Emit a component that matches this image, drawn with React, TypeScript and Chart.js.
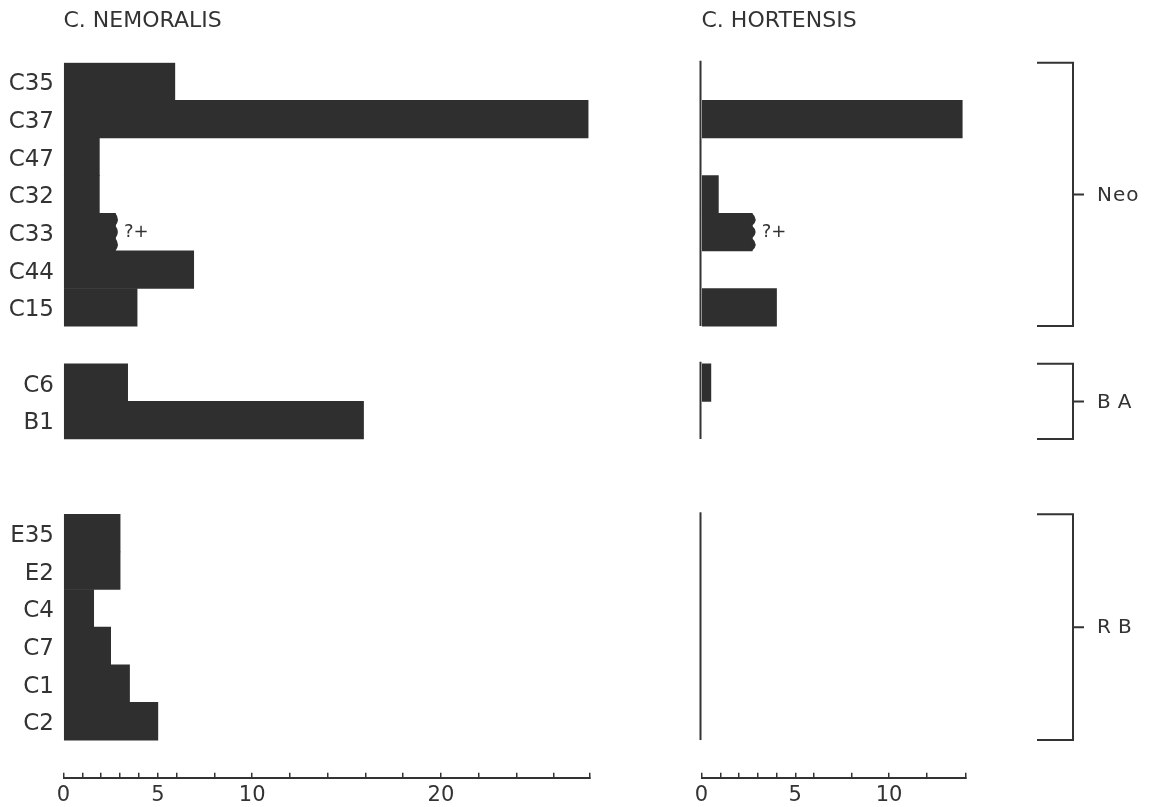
import React, { useEffect, useRef } from 'react';
import { Chart, registerables } from 'chart.js';

Chart.register(...registerables);

// ---- data ----
const categories = ['C35', 'C37', 'C47', 'C32', 'C33', 'C44', 'C15', '', 'C6', 'B1', '', '', 'E35', 'E2', 'C4', 'C7', 'C1', 'C2', ''];
const nemoralis = [5.9, 27.8, 1.9, 1.9, 2.75, 6.9, 3.9, null, 3.4, 15.9, null, null, 3.0, 3.0, 1.6, 2.5, 3.5, 5.0, null];
const hortensis = [null, 13.9, null, 0.9, 2.7, null, 4.0, null, 0.5, null, null, null, null, null, null, null, null, null, null];

const groupNames = ['Neo', 'BA', 'RB'];
const groupFirst = ['C35', 'C6', 'E35'];
const groupLast = ['C15', 'B1', 'C2'];

const uncertainCategory = 'C33';
const uncertainLabel = '?+';

const nemoralisTicks = [0, 1, 2, 3, 4, 5, 6, 8, 10, 12, 14, 16, 18, 20, 22, 24, 26];
const nemoralisTickLabels = [0, 5, 10, 20];
const nemoralisMax = 27.9;

const hortensisTicks = [0, 1, 2, 3, 4, 5, 6, 8, 10, 12];
const hortensisTickLabels = [0, 5, 10];
const hortensisMax = 14.1;

const titles = ['C. NEMORALIS', 'C. HORTENSIS'];

// ---- styles ----
const INK = '#333333';
const BAR = '#2f2f2f';
const FONT = "'DejaVu Sans', 'Liberation Sans', sans-serif";

function uncertainPlugin(id: string, amp: number) {
  return {
    id,
    afterDatasetsDraw(chart: any) {
      const idx = categories.indexOf(uncertainCategory);
      const el = chart.getDatasetMeta(0).data[idx];
      if (!el) return;
      const { x, y, height } = el.getProps(['x', 'y', 'height'], true);
      const top = y - height / 2;
      const bottom = y + height / 2;
      const ctx = chart.ctx;
      ctx.save();
      ctx.fillStyle = BAR;
      ctx.beginPath();
      ctx.moveTo(x - 1, top);
      ctx.lineTo(x, top);
      const n = 3;
      const seg = height / n;
      for (let i = 0; i < n; i++) {
        ctx.quadraticCurveTo(x + 2 * amp, top + seg * (i + 0.5), x, top + seg * (i + 1));
      }
      ctx.lineTo(x - 1, bottom);
      ctx.closePath();
      ctx.fill();
      ctx.fillStyle = INK;
      ctx.font = `18px ${FONT}`;
      ctx.textBaseline = 'middle';
      ctx.textAlign = 'left';
      ctx.fillText(uncertainLabel, x + amp + 6, y);
      ctx.restore();
    },
  };
}

const groupPlugin = {
  id: 'groupBrackets',
  afterDatasetsDraw(chart: any) {
    const ys = chart.scales.y;
    const area = chart.chartArea;
    const slot = ys.getPixelForValue(1) - ys.getPixelForValue(0);
    const ctx = chart.ctx;
    ctx.save();
    ctx.strokeStyle = INK;
    ctx.lineWidth = 2;
    ctx.fillStyle = INK;
    ctx.font = `20px ${FONT}`;
    ctx.textBaseline = 'middle';
    ctx.textAlign = 'left';
    groupNames.forEach((name, g) => {
      const top = ys.getPixelForValue(categories.indexOf(groupFirst[g])) - slot / 2;
      const bot = ys.getPixelForValue(categories.indexOf(groupLast[g])) + slot / 2;
      const mid = (top + bot) / 2;
      // baseline of the hortensis panel
      ctx.beginPath();
      ctx.moveTo(area.left - 1, top - 2);
      ctx.lineTo(area.left - 1, bot);
      ctx.stroke();
      // bracket
      const xa = area.right + 71;
      const xv = area.right + 107;
      const xt = area.right + 118;
      ctx.beginPath();
      ctx.moveTo(xa, top);
      ctx.lineTo(xv, top);
      ctx.lineTo(xv, bot);
      ctx.lineTo(xa, bot);
      ctx.moveTo(xv, mid);
      ctx.lineTo(xt, mid);
      ctx.stroke();
      (ctx as any).letterSpacing = name.length === 2 ? '7px' : '1px';
      ctx.fillText(name, area.right + 131, mid + 1);
      (ctx as any).letterSpacing = '0px';
    });
    ctx.restore();
  },
};

function buildConfig(opts: {
  title: string;
  data: (number | null)[];
  ticks: number[];
  tickLabels: number[];
  max: number;
  showY: boolean;
  yWidth: number;
  padLeft: number;
  padRight: number;
  plugins: any[];
}): any {
  return {
    type: 'bar',
    data: {
      labels: categories,
      datasets: [
        {
          data: opts.data,
          backgroundColor: BAR,
          borderWidth: 0,
          barPercentage: 1,
          categoryPercentage: 1,
        },
      ],
    },
    plugins: opts.plugins,
    options: {
      indexAxis: 'y',
      animation: false,
      responsive: false,
      devicePixelRatio: 1,
      layout: { padding: { left: opts.padLeft, right: opts.padRight, top: 0, bottom: 0 } },
      plugins: {
        legend: { display: false },
        tooltip: { enabled: false },
        title: {
          display: true,
          text: opts.title,
          align: 'start',
          fullSize: false,
          color: INK,
          font: { family: FONT, size: 22, weight: 'normal' },
          padding: { top: 8, bottom: 28.3 },
        },
      },
      scales: {
        y: {
          type: 'category',
          display: opts.showY,
          grid: { display: false, drawTicks: false },
          border: { display: false },
          ticks: {
            color: INK,
            padding: 9.5,
            labelOffset: 3,
            font: { family: FONT, size: 23 },
            autoSkip: false,
          },
          afterFit: (s: any) => {
            s.width = opts.yWidth;
          },
        },
        x: {
          type: 'linear',
          min: 0,
          max: opts.max,
          grid: {
            display: true,
            drawOnChartArea: false,
            drawTicks: true,
            tickLength: -5,
            color: INK,
            lineWidth: 1.5,
          },
          border: { display: true, color: INK, width: 2 },
          afterBuildTicks: (s: any) => {
            s.ticks = opts.ticks.concat([opts.max]).map((v) => ({ value: v }));
          },
          afterFit: (s: any) => {
            s.height = 29.3;
          },
          ticks: {
            autoSkip: false,
            maxRotation: 0,
            minRotation: 0,
            padding: 10,
            color: INK,
            font: { family: FONT, size: 21 },
            callback: (v: number) => (opts.tickLabels.includes(v) ? String(v) : ''),
          },
        },
      },
    },
  };
}

export default function App() {
  const leftRef = useRef<HTMLCanvasElement>(null);
  const rightRef = useRef<HTMLCanvasElement>(null);

  useEffect(() => {
    const left = new Chart(
      leftRef.current as HTMLCanvasElement,
      buildConfig({
        title: titles[0],
        data: nemoralis,
        ticks: nemoralisTicks,
        tickLabels: nemoralisTickLabels,
        max: nemoralisMax,
        showY: true,
        yWidth: 63.5,
        padLeft: 0,
        padRight: 50,
        plugins: [uncertainPlugin('uncertainLeft', 2.5)],
      })
    );
    const right = new Chart(
      rightRef.current as HTMLCanvasElement,
      buildConfig({
        title: titles[1],
        data: hortensis,
        ticks: hortensisTicks,
        tickLabels: hortensisTickLabels,
        max: hortensisMax,
        showY: false,
        yWidth: 0,
        padLeft: 61.5,
        padRight: 183,
        plugins: [uncertainPlugin('uncertainRight', 3.5), groupPlugin],
      })
    );
    return () => {
      left.destroy();
      right.destroy();
    };
  }, []);

  return (
    <div
      style={{
        position: 'absolute',
        left: 0,
        top: 0,
        width: 1149,
        height: 807,
        background: '#ffffff',
        overflow: 'hidden',
      }}
    >
      <canvas ref={leftRef} width={640} height={807} style={{ position: 'absolute', left: 0, top: 0 }} />
      <canvas ref={rightRef} width={509} height={807} style={{ position: 'absolute', left: 640, top: 0 }} />
    </div>
  );
}
